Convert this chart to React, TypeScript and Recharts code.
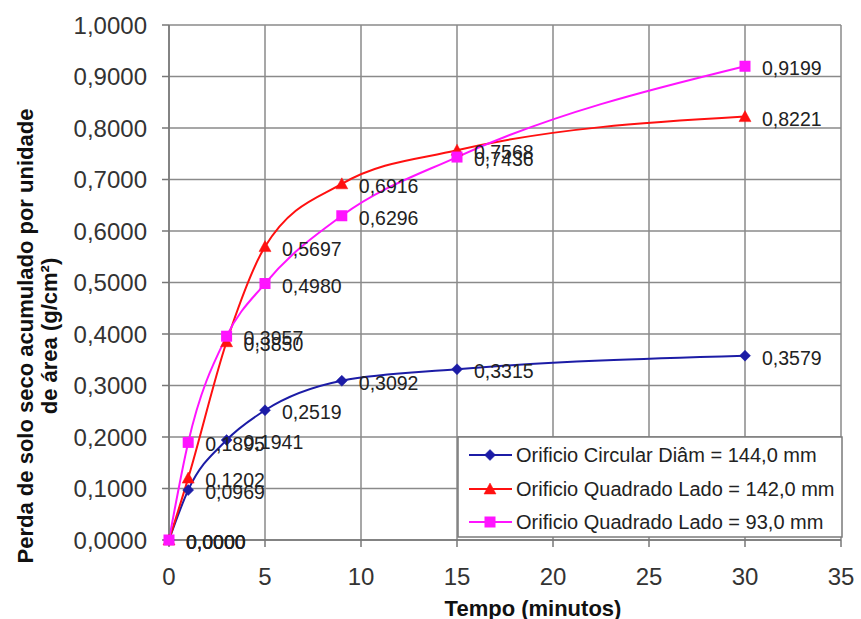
import React from 'react';
import { LineChart, Line, XAxis, YAxis, CartesianGrid, LabelList, Customized } from 'recharts';

const FONT = '"Liberation Sans", Arial, Helvetica, sans-serif';

// ---- data ----
const times = [0, 1, 3, 5, 9, 15, 30];
const circular144 = [0, 0.0969, 0.1941, 0.2519, 0.3092, 0.3315, 0.3579];
const square142 = [0, 0.1202, 0.385, 0.5697, 0.6916, 0.7568, 0.8221];
const square93 = [0, 0.1895, 0.3957, 0.498, 0.6296, 0.7436, 0.9199];
const xTicks = [0, 5, 10, 15, 20, 25, 30, 35];
const yTicks = [0, 0.1, 0.2, 0.3, 0.4, 0.5, 0.6, 0.7, 0.8, 0.9, 1.0];
const seriesNames = [
  'Orificio Circular Diâm = 144,0 mm',
  'Orificio Quadrado Lado = 142,0 mm',
  'Orificio Quadrado Lado = 93,0 mm',
];
const xTitle = 'Tempo (minutos)';
const yTitleLine1 = 'Perda de solo seco acumulado por unidade';
const yTitleLine2 = 'de área  (g/cm²)';

const data = times.map((t, i) => ({ t, c144: circular144[i], q142: square142[i], q93: square93[i] }));

const COLORS = ['#1c1ca6', '#ff1010', '#ff14ff'];
const GRID = '#8a8a8a';

const fmt = (v: number) => v.toFixed(4).replace('.', ',');

function Marker({ kind, cx, cy, color }: { kind: number; cx: number; cy: number; color: string }) {
  if (cx == null || cy == null) return null;
  if (kind === 0) {
    const r = 5.5;
    return <polygon points={`${cx},${cy - r} ${cx + r},${cy} ${cx},${cy + r} ${cx - r},${cy}`} fill={color} stroke={color} strokeWidth={0.5} />;
  }
  if (kind === 1) {
    return <polygon points={`${cx},${cy - 6} ${cx + 6},${cy + 5} ${cx - 6},${cy + 5}`} fill={color} stroke={color} strokeWidth={0.5} />;
  }
  return <rect x={cx - 5.5} y={cy - 5.5} width={11} height={11} fill={color} />;
}

const makeDot = (kind: number) => (p: any) => (
  <Marker key={`m-${kind}-${p.index}`} kind={kind} cx={p.cx} cy={p.cy} color={COLORS[kind]} />
);

const valueLabel = (p: any) => {
  const { x, y, value } = p;
  if (x == null || y == null) return null;
  return (
    <text x={x + 17} y={y + 9} fontSize={19.5} fontFamily={FONT} fill="#222" textAnchor="start">
      {fmt(Number(value))}
    </text>
  );
};

const Titles = () => (
  <g fontFamily={FONT} fontWeight="bold" fontSize={22} fill="#111">
    <text x={33} y={336} textAnchor="middle" transform="rotate(-90, 33, 336)">{yTitleLine1}</text>
    <text x={57} y={336} textAnchor="middle" transform="rotate(-90, 57, 336)">
      {yTitleLine2}
    </text>
    <text x={533} y={616} textAnchor="middle">{xTitle}</text>
  </g>
);

const LegendBox = () => {
  const rows = [455, 489, 522];
  return (
    <g fontFamily={FONT}>
      <rect x={458} y={437} width={384} height={100} fill="#fff" stroke="#7a7a7a" strokeWidth={1.5} />
      {rows.map((ry, i) => (
        <g key={i}>
          <line x1={469} x2={512} y1={ry} y2={ry} stroke={COLORS[i]} strokeWidth={2} />
          <Marker kind={i} cx={490} cy={ry} color={COLORS[i]} />
          <text x={516} y={ry + 7} fontSize={20} fill="#222">{seriesNames[i]}</text>
        </g>
      ))}
    </g>
  );
};

export default function App() {
  return (
    <div style={{ position: 'absolute', left: 0, top: 0, background: '#fff' }}>
      <LineChart width={861} height={619} data={data} margin={{ top: 25, right: 20, bottom: 0, left: 0 }}>
        <CartesianGrid stroke={GRID} strokeWidth={1.5} />
        <XAxis
          dataKey="t"
          type="number"
          domain={[0, 35]}
          ticks={xTicks}
          interval={0}
          height={79}
          tickSize={7}
          tickMargin={21}
          axisLine={{ stroke: '#777', strokeWidth: 1.5 }}
          tickLine={{ stroke: '#777', strokeWidth: 1.5 }}
          tick={{ fontSize: 24, fontFamily: FONT, fill: '#333' }}
        />
        <YAxis
          type="number"
          domain={[0, 1]}
          ticks={yTicks}
          interval={0}
          width={169}
          tickSize={7}
          tickMargin={15}
          tickFormatter={fmt}
          axisLine={{ stroke: '#777', strokeWidth: 1.5 }}
          tickLine={{ stroke: '#777', strokeWidth: 1.5 }}
          tick={{ fontSize: 24, fontFamily: FONT, fill: '#333' }}
        />
        <Line type="monotone" dataKey="c144" stroke={COLORS[0]} strokeWidth={2} dot={makeDot(0)} isAnimationActive={false}>
          <LabelList dataKey="c144" content={valueLabel} />
        </Line>
        <Line type="monotone" dataKey="q142" stroke={COLORS[1]} strokeWidth={2} dot={makeDot(1)} isAnimationActive={false}>
          <LabelList dataKey="q142" content={valueLabel} />
        </Line>
        <Line type="monotone" dataKey="q93" stroke={COLORS[2]} strokeWidth={2} dot={makeDot(2)} isAnimationActive={false}>
          <LabelList dataKey="q93" content={valueLabel} />
        </Line>
        <Customized component={Titles} />
        <Customized component={LegendBox} />
      </LineChart>
    </div>
  );
}
